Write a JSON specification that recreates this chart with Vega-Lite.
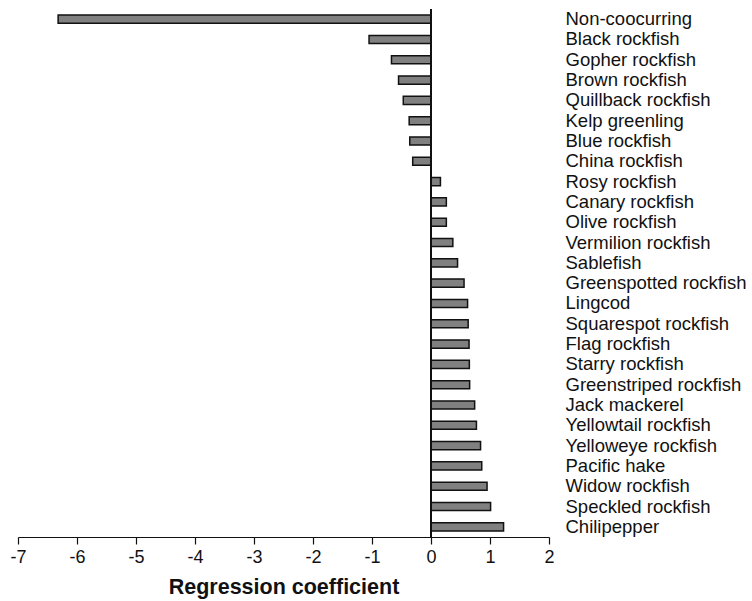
{
  "$schema": "https://vega.github.io/schema/vega-lite/v6.json",
  "autosize": "none",
  "width": 531,
  "height": 528,
  "padding": {"left": 18, "top": 9, "right": 203, "bottom": 64},
  "config": {
    "view": {"stroke": null},
    "font": "Liberation Sans"
  },
  "data": {
    "values": [
      {"species": "Non-coocurring", "coef": -6.32},
      {"species": "Black rockfish", "coef": -1.05},
      {"species": "Gopher rockfish", "coef": -0.67},
      {"species": "Brown rockfish", "coef": -0.55},
      {"species": "Quillback rockfish", "coef": -0.47},
      {"species": "Kelp greenling", "coef": -0.37},
      {"species": "Blue rockfish", "coef": -0.36},
      {"species": "China rockfish", "coef": -0.31},
      {"species": "Rosy rockfish", "coef": 0.16},
      {"species": "Canary rockfish", "coef": 0.26},
      {"species": "Olive rockfish", "coef": 0.26},
      {"species": "Vermilion rockfish", "coef": 0.37},
      {"species": "Sablefish", "coef": 0.45},
      {"species": "Greenspotted rockfish", "coef": 0.56},
      {"species": "Lingcod", "coef": 0.62},
      {"species": "Squarespot rockfish", "coef": 0.63},
      {"species": "Flag rockfish", "coef": 0.645},
      {"species": "Starry rockfish", "coef": 0.65},
      {"species": "Greenstriped rockfish", "coef": 0.655},
      {"species": "Jack mackerel", "coef": 0.74},
      {"species": "Yellowtail rockfish", "coef": 0.77},
      {"species": "Yelloweye rockfish", "coef": 0.84},
      {"species": "Pacific hake", "coef": 0.86},
      {"species": "Widow rockfish", "coef": 0.95},
      {"species": "Speckled rockfish", "coef": 1.01},
      {"species": "Chilipepper", "coef": 1.23}
    ]
  },
  "layer": [
    {
      "mark": {"type": "bar", "fill": "#808080", "stroke": "#111111", "strokeWidth": 1.5},
      "encoding": {
        "y": {
          "field": "species",
          "type": "nominal",
          "sort": null,
          "scale": {"paddingInner": 0.6, "paddingOuter": 0.3},
          "axis": {
            "orient": "right",
            "title": null,
            "domain": false,
            "ticks": false,
            "labelAlign": "left",
            "labelPadding": 16,
            "labelFontSize": 18.5,
            "labelLimit": 400,
            "labelColor": "#111111",
            "labelFont": "Liberation Sans"
          }
        },
        "x": {
          "field": "coef",
          "type": "quantitative",
          "scale": {"domain": [-7, 2], "nice": false, "zero": false},
          "axis": {
            "title": "Regression coefficient",
            "titleFontSize": 21.5,
            "titleFontWeight": "bold",
            "titleColor": "#111111",
            "titlePadding": 10,
            "values": [-7, -6, -5, -4, -3, -2, -1, 0, 1, 2],
            "labelExpr": "'' + datum.value",
            "grid": false,
            "domainColor": "#111111",
            "domainWidth": 1.2,
            "tickColor": "#111111",
            "tickWidth": 1.2,
            "tickSize": 7,
            "labelFontSize": 18,
            "labelColor": "#111111",
            "labelPadding": 4,
            "labelFlush": false
          }
        }
      }
    },
    {
      "mark": {"type": "rule", "color": "#111111", "strokeWidth": 1.3},
      "encoding": {
        "x": {"datum": 0, "type": "quantitative"}
      }
    }
  ]
}
